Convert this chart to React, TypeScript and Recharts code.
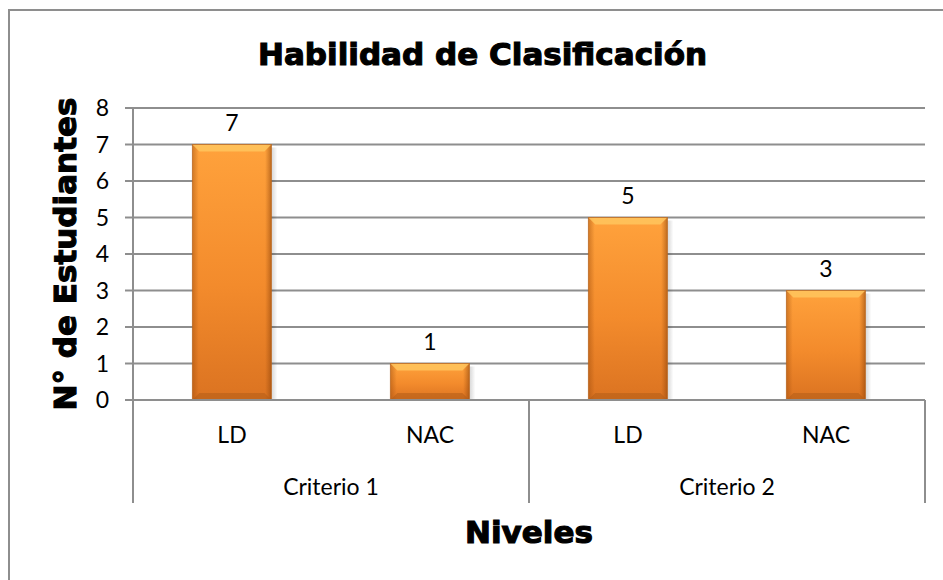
import React from 'react';
import { BarChart, Bar, XAxis, YAxis, CartesianGrid, LabelList, Label } from 'recharts';

const niveles = ['LD', 'NAC', 'LD', 'NAC'];
const criterios = ['Criterio 1', 'Criterio 1', 'Criterio 2', 'Criterio 2'];
const estudiantes = [7, 1, 5, 3];
const yTicks = [0, 1, 2, 3, 4, 5, 6, 7, 8];

const data = niveles.map((nivel, i) => ({ nivel, criterio: criterios[i], estudiantes: estudiantes[i] }));

const GRID = '#8e8e8e';
const BODY_FONT = 'Lato, "Open Sans", sans-serif';
const HEAVY_FONT = '"DejaVu Sans", "Liberation Sans", sans-serif';
const HEAVY_STROKE = 1.15;
const NIVEL_AXIS_H = 60;

// orange bar with bevelled edges, like the Excel preset
const BeveledBar = (props: any) => {
  const { x, y, width: w, height: h, index } = props;
  if (!h || h <= 0) return null;
  const b = Math.min(7, h / 4);
  const id = `barra-${index}`;
  return (
    <g>
      <defs>
        <linearGradient id={`${id}-v`} x1="0" y1="0" x2="0" y2="1">
          <stop offset="0%" stopColor="#FFA23C" />
          <stop offset="55%" stopColor="#F38B2C" />
          <stop offset="100%" stopColor="#DB7321" />
        </linearGradient>
        <linearGradient id={`${id}-h`} x1="0" y1="0" x2="1" y2="0">
          <stop offset="0%" stopColor="#9A4A0C" stopOpacity={0.45} />
          <stop offset="8%" stopColor="#9A4A0C" stopOpacity={0} />
          <stop offset="92%" stopColor="#9A4A0C" stopOpacity={0} />
          <stop offset="100%" stopColor="#8A4008" stopOpacity={0.55} />
        </linearGradient>
        <linearGradient id={`${id}-s`} x1="0" y1="0" x2="1" y2="0">
          <stop offset="0%" stopColor="#000" stopOpacity={0.16} />
          <stop offset="100%" stopColor="#000" stopOpacity={0} />
        </linearGradient>
      </defs>
      <rect x={x + w} y={y + 3} width={6} height={h - 3} fill={`url(#${id}-s)`} />
      <rect x={x} y={y} width={w} height={h} fill={`url(#${id}-v)`} />
      <rect x={x} y={y} width={w} height={h} fill={`url(#${id}-h)`} />
      <polygon
        points={`${x},${y} ${x + w},${y} ${x + w - b},${y + b} ${x + b},${y + b}`}
        fill="#FFC65E"
        opacity={0.85}
      />
      <polygon
        points={`${x},${y + h} ${x + w},${y + h} ${x + w - b},${y + h - b} ${x + b},${y + h - b}`}
        fill="#B35D17"
        opacity={0.55}
      />
      <rect x={x} y={y} width={w} height={h} fill="none" stroke="#B5621E" strokeOpacity={0.7} strokeWidth={1} />
    </g>
  );
};

const NivelTick = (props: any) => {
  const { x, y, payload } = props;
  return (
    <text x={x} y={y + 43} textAnchor="middle" fontFamily={BODY_FONT} fontSize={23} fill="#000">
      {payload.value}
    </text>
  );
};

const CriterioTick = (props: any) => {
  const { x, y, payload, width, visibleTicksCount } = props;
  const half = width && visibleTicksCount ? width / visibleTicksCount / 2 : 198;
  const top = y - NIVEL_AXIS_H;
  const bottom = y + 43;
  return (
    <g>
      <line x1={x - half} x2={x - half} y1={top} y2={bottom} stroke={GRID} strokeWidth={2} />
      <line x1={x + half} x2={x + half} y1={top} y2={bottom} stroke={GRID} strokeWidth={2} />
      <text x={x} y={y + 35} textAnchor="middle" fontFamily={BODY_FONT} fontSize={23} fill="#000">
        {payload.value}
      </text>
    </g>
  );
};

export default function App() {
  return (
    <div style={{ position: 'fixed', left: 0, top: 0, width: 943, height: 580, overflow: 'hidden', background: '#fff' }}>
      <svg width={943} height={580} style={{ position: 'absolute', left: 0, top: 0 }}>
        <rect x={9} y={10} width={960} height={600} fill="none" stroke={GRID} strokeWidth={2} />
        <text
          x={482.5}
          y={65}
          textAnchor="middle"
          fontFamily={HEAVY_FONT}
          fontWeight="bold"
          fontSize={31}
          fill="#000"
          stroke="#000"
          strokeWidth={HEAVY_STROKE}
        >
          Habilidad de Clasificación
        </text>
      </svg>
      <div style={{ position: 'absolute', left: 0, top: 0 }}>
        <BarChart
          width={943}
          height={580}
          data={data}
          margin={{ top: 108, right: 18, bottom: 0, left: 0 }}
          barCategoryGap="30%"
        >
          <CartesianGrid vertical={false} stroke={GRID} strokeWidth={2} />
          <XAxis
            dataKey="nivel"
            height={NIVEL_AXIS_H}
            interval={0}
            axisLine={{ stroke: GRID, strokeWidth: 2 }}
            tickLine={false}
            tickSize={0}
            tickMargin={0}
            tick={<NivelTick />}
          />
          <XAxis
            xAxisId="grupo"
            dataKey="criterio"
            allowDuplicatedCategory={false}
            height={120}
            interval={0}
            axisLine={false}
            tickLine={false}
            tickSize={0}
            tickMargin={0}
            tick={<CriterioTick />}
          >
            <Label
              value="Niveles"
              position="center"
              dy={12}
              fontFamily={HEAVY_FONT}
              fontWeight="bold"
              fontSize={31}
              fill="#000"
              stroke="#000"
              strokeWidth={HEAVY_STROKE}
            />
          </XAxis>
          <YAxis
            width={133}
            domain={[0, 8]}
            ticks={yTicks}
            interval={0}
            tickSize={8}
            tickMargin={16}
            axisLine={{ stroke: GRID, strokeWidth: 2 }}
            tickLine={{ stroke: GRID, strokeWidth: 2 }}
            tick={{ fontFamily: BODY_FONT, fontSize: 23, fill: '#000' }}
          >
            <Label
              value="N° de Estudiantes"
              angle={-90}
              position="center"
              dx={-2}
              fontFamily={HEAVY_FONT}
              fontWeight="bold"
              fontSize={31}
              fill="#000"
              stroke="#000"
              strokeWidth={HEAVY_STROKE}
            />
          </YAxis>
          <Bar dataKey="estudiantes" shape={<BeveledBar />} isAnimationActive={false}>
            <LabelList dataKey="estudiantes" position="top" offset={14} fontFamily={BODY_FONT} fontSize={23} fill="#000" />
          </Bar>
        </BarChart>
      </div>
    </div>
  );
}
